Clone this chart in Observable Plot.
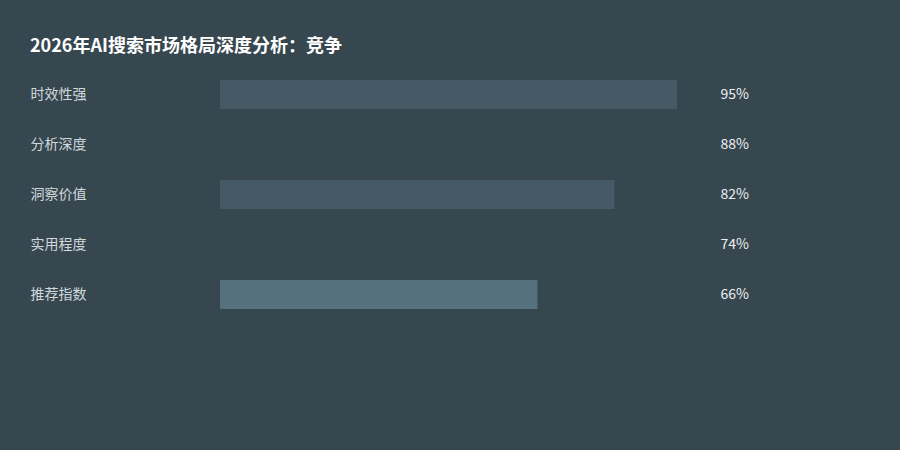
<!DOCTYPE html>
<html><head><meta charset="utf-8">
<script src="https://cdn.jsdelivr.net/npm/d3@7"></script>
<script src="https://cdn.jsdelivr.net/npm/@observablehq/plot@0.6"></script>
<style>
html,body{margin:0;padding:0;background:#37474f;width:900px;height:450px;overflow:hidden;}
#title{box-sizing:border-box;height:70px;padding:34px 0 0 30px;font:bold 18px/20px "Noto Sans CJK SC","Noto Sans",sans-serif;color:#ffffff;}
#chart svg{display:block;}
</style></head>
<body>
<div id="title">2026年AI搜索市场格局深度分析：竞争</div>
<div id="chart"></div>
<script>
const categories = ["时效性强","分析深度","洞察价值","实用程度","推荐指数"];
const values = [95, 88, 82, 74, 66];
const barColors = ["#465a66", "#37474f", "#465a66", "#37474f", "#56717e"];

const data = categories.map((c, i) => ({cat: c, v: values[i], color: barColors[i]}));

const plot = Plot.plot({
  width: 900,
  height: 380,
  marginLeft: 0, marginRight: 0, marginTop: 0, marginBottom: 0,
  style: {background: "#37474f", fontFamily: "'Noto Sans CJK SC','Noto Sans',sans-serif"},
  x: {domain: [0, 100], range: [220, 701], axis: null},
  y: {domain: categories, range: [10, 239], paddingInner: 0.42, paddingOuter: 0, axis: null},
  marks: [
    Plot.barX(data, {x: "v", y: "cat", fill: d => d.color}),
    Plot.text(data, {y: "cat", text: "cat", frameAnchor: "left", textAnchor: "start", dx: 30, fill: "#cfd8dc", fontSize: 14}),
    Plot.text(data, {y: "cat", text: d => d.v + "%", frameAnchor: "left", textAnchor: "start", dx: 720, fill: "#eceff1", fontSize: 14})
  ]
});
document.getElementById("chart").appendChild(plot);
</script>
</body></html>
